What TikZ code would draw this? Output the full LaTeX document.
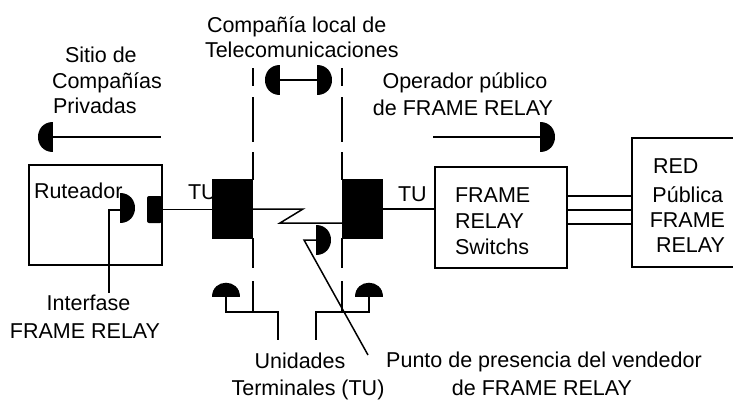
\documentclass[tikz,border=0pt]{standalone}
\usepackage{fontspec}
\setmainfont{Liberation Sans}
\newcommand\hdL[2]{\fill (#1,#2-15) .. controls (#1-20,#2-15) and (#1-20,#2+15) .. (#1,#2+15) -- cycle;}
\newcommand\hdR[2]{\fill (#1,#2-15) .. controls (#1+20,#2-15) and (#1+20,#2+15) .. (#1,#2+15) -- cycle;}
\newcommand\hdU[2]{\fill (#1-14,#2) .. controls (#1-14,#2-19) and (#1+14,#2-19) .. (#1+14,#2) -- cycle;}
\begin{document}
\begin{tikzpicture}[x=1pt,y=-1pt,line width=1.5pt,
  txt/.style={inner sep=0pt,outer sep=0pt,font=\fontsize{21.5}{26}\selectfont},
  box/.style={draw,inner sep=0pt,outer sep=0pt},
  blk/.style={fill=black,inner sep=0pt,outer sep=0pt}]
\useasboundingbox (0,0) rectangle (733,399);
\clip (0,0) rectangle (733,399);

% boxes
\node[box,minimum width=133pt,minimum height=100pt] (rut) at (95.5,215) {};
\node[blk,minimum width=15pt,minimum height=27pt,rounded corners=2pt] (port) at (154.5,209.5) {};
\node[blk,minimum width=41pt,minimum height=60pt] (tuL) at (232.5,209) {};
\node[blk,minimum width=41pt,minimum height=60pt] (tuR) at (362.5,209) {};
\node[box,minimum width=132pt,minimum height=101pt] (sw) at (501,217.5) {};
\node[box,minimum width=113pt,minimum height=129pt] (red) at (688.5,202.5) {};

% texts
\node[txt,anchor=base west] (sitio1) at (65,62) {Sitio de};
\node[txt,anchor=base west] (sitio2) at (52,88) {Compañías};
\node[txt,anchor=base west] (sitio3) at (53,113) {Privadas};
\node[txt,anchor=base west] (loc1) at (207,32) {Compañía local de};
\node[txt,anchor=base west] (loc2) at (205,57) {Telecomunicaciones};
\node[txt,anchor=base] (op1) at (465,88) {Operador público};
\node[txt,anchor=base] (op2) at (463,115) {de FRAME RELAY};
\node[txt,anchor=base west] (rtxt) at (34,198) {Ruteador};
\node[txt,anchor=base west] (tul) at (188,199) {TU};
\node[txt,anchor=base west] (tur) at (398,201) {TU};
\node[txt,anchor=base west] (sw1) at (455,202) {FRAME};
\node[txt,anchor=base west] (sw2) at (455,228) {RELAY};
\node[txt,anchor=base west] (sw3) at (455,254) {Switchs};
\node[txt,anchor=base west] (red1) at (653,173) {RED};
\node[txt,anchor=base east] (red2) at (723,202) {Pública};
\node[txt,anchor=base east] (red3) at (725,227) {FRAME};
\node[txt,anchor=base east] (red4) at (725,252) {RELAY};
\node[txt,anchor=base] (if1) at (88.5,310) {Interfase};
\node[txt,anchor=base] (if2) at (85,338) {FRAME RELAY};
\node[txt,anchor=base] (un1) at (300,368) {Unidades};
\node[txt,anchor=base] (un2) at (308,395) {Terminales (TU)};
\node[txt,anchor=base] (pu1) at (544,367) {Punto de presencia del vendedor};
\node[txt,anchor=base] (pu2) at (542,395) {de FRAME RELAY};

% connections
\draw (port.east) -- (port.east -| tuL.west);
\coordinate (z1) at (303,209);
\coordinate (z2) at (280,223);
\draw (tuL.east) -- (z1) -- (z2) -- (z2 -| tuR.west);
\draw (tuR.east) -- (tuR.east -| sw.west);
\foreach \yy in {196,210,224}{
  \coordinate (la) at (567,\yy);
  \draw (la -| sw.east) -- (la -| red.west);
}

% dashed boundaries
\foreach \a/\b in {68/86,97/142,152/180,238/268,281/312}{
  \draw (253,\a) -- (253,\b);
  \draw (342,\a) -- (342,\b);
}

% top arrows
\hdL{53}{137}
\draw (53,137) -- (161,137);
\hdL{280}{80}
\hdR{317}{80}
\draw (280,80) -- (317,80);
\hdR{540}{137}
\draw (433,137) -- (540,137);

% interface label
\hdR{120}{208}
\coordinate (ifa) at (109,210);
\draw (120,210) -- (ifa) -- (109,293);

% punto de presencia
\hdR{316}{240}
\coordinate (pp) at (304,240);
\draw (316,240) -- (pp) -- (368,355);

% terminal units
\hdU{226}{297}
\draw (226,297) -- (226,312) -- (278,312) -- (278,340);
\hdU{369}{297}
\draw (369,297) -- (369,312) -- (316,312) -- (316,340);
\end{tikzpicture}
\end{document}
